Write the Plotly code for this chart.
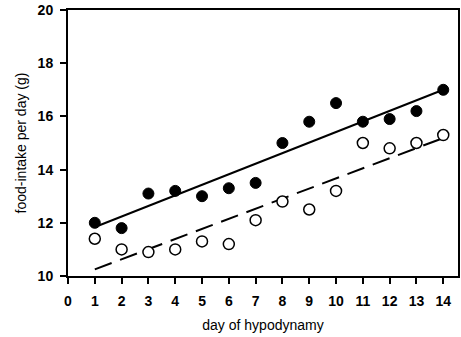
import plotly.graph_objects as go

days = list(range(1, 15))
filled_vals = [12.0, 11.8, 13.1, 13.2, 13.0, 13.3, 13.5, 15.0, 15.8, 16.5, 15.8, 15.9, 16.2, 17.0]
open_vals = [11.4, 11.0, 10.9, 11.0, 11.3, 11.2, 12.1, 12.8, 12.5, 13.2, 15.0, 14.8, 15.0, 15.3]
solid_x = [1.15, 14]
solid_y = [11.9, 17.0]
dash_x = [1.0, 13.9]
dash_y = [10.25, 15.15]
x_ticks = list(range(0, 15))
y_ticks = [10, 12, 14, 16, 18, 20]

fig = go.Figure()
fig.add_trace(go.Scatter(x=solid_x, y=solid_y, mode="lines",
                         line=dict(color="black", width=2), showlegend=False))
fig.add_trace(go.Scatter(x=dash_x, y=dash_y, mode="lines",
                         line=dict(color="black", width=2, dash="18px,9px"), showlegend=False))
fig.add_trace(go.Scatter(x=days, y=filled_vals, mode="markers",
                         marker=dict(color="black", size=11, line=dict(color="black", width=1)),
                         showlegend=False))
fig.add_trace(go.Scatter(x=days, y=open_vals, mode="markers",
                         marker=dict(color="white", size=11, line=dict(color="black", width=1.5)),
                         showlegend=False))

font = dict(family="Liberation Sans, Arial, sans-serif", size=14, color="black")
tickfont = dict(family="Liberation Sans, Arial, sans-serif", size=14, color="black", weight="bold")
fig.update_layout(
    width=461, height=337,
    margin=dict(l=68, r=1, t=10, b=61),
    paper_bgcolor="white", plot_bgcolor="white",
    font=font,
    xaxis=dict(range=[0, 14.55], tickvals=x_ticks, ticks="outside", ticklen=6, tickwidth=1.5,
               tickcolor="black", showgrid=False, zeroline=False, showline=True, linecolor="black",
               linewidth=2, mirror=True, ticklabelstandoff=5, tickfont=tickfont,
               title=dict(text="day of hypodynamy", font=dict(size=14), standoff=12)),
    yaxis=dict(range=[10, 20], tickvals=y_ticks, ticks="outside", ticklen=6, tickwidth=1.5,
               tickcolor="black", showgrid=False, zeroline=False, showline=True, linecolor="black",
               linewidth=2, mirror=True, ticklabelstandoff=4, tickfont=tickfont,
               title=dict(text="food-intake per day (g)", font=dict(size=14), standoff=8)),
)
fig.write_html("out.html")
